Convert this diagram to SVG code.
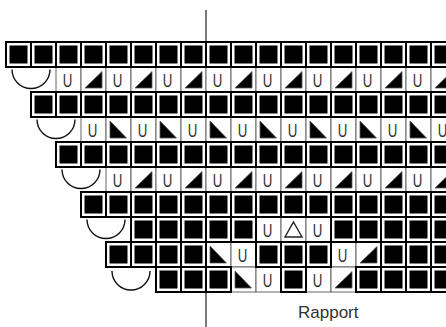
<svg xmlns="http://www.w3.org/2000/svg" xmlns:xlink="http://www.w3.org/1999/xlink" width="446" height="327" viewBox="0 0 446 327">
<style>
.sqb{fill:#fff;stroke:#000;stroke-width:2}
.pc{fill:#fff;stroke:#666;stroke-width:1}
.tri{fill:#000;stroke:#555;stroke-width:0.8;stroke-linejoin:miter}
.tro{fill:none;stroke:#222;stroke-width:1.4}
.u{font-family:"Liberation Sans",Arial,sans-serif;font-size:19px;fill:#333;text-anchor:middle}
.arc{fill:none;stroke:#111;stroke-width:1.4}
.rl{stroke:#222;stroke-width:1.2}
.lbl{font-family:"Liberation Sans",Arial,sans-serif;font-size:17px;fill:#333}
</style>
<defs>
<g id="sq"><rect width="25" height="25" class="sqb"/><rect x="3.5" y="3.5" width="18" height="18" fill="#000"/></g>
<g id="pc"><rect width="25" height="25" class="pc"/></g>
<g id="tr"><rect width="25" height="25" class="pc"/><polygon class="tri" points="4,21 21,4.5 21,21"/></g>
<g id="tl"><rect width="25" height="25" class="pc"/><polygon class="tri" points="4,4 4,21 20.5,21"/></g>
<g id="to"><rect width="25" height="25" class="pc"/><polygon class="tro" points="12.5,5 21,20 4,20"/></g>
</defs>

<g id="rapport-line">
<line class="rl" x1="206" y1="10" x2="206" y2="327"/>
</g>

<g id="arcs">
<path class="arc" d="M12,69.5 A19,19 0 0 0 50,69.5"/>
<path class="arc" d="M37,119.5 A19,19 0 0 0 75,119.5"/>
<path class="arc" d="M62,169.5 A19,19 0 0 0 100,169.5"/>
<path class="arc" d="M87,219.5 A19,19 0 0 0 125,219.5"/>
<path class="arc" d="M112,271 A19,19 0 0 0 150,271"/>
</g>

<g id="pattern-cells">
<!-- row 2 y=67 -->
<use href="#pc" x="56" y="67"/><use href="#tr" x="81" y="67"/>
<use href="#pc" x="106" y="67"/><use href="#tr" x="131" y="67"/>
<use href="#pc" x="156" y="67"/><use href="#tr" x="181" y="67"/>
<use href="#pc" x="206" y="67"/><use href="#tr" x="231" y="67"/>
<use href="#pc" x="256" y="67"/><use href="#tr" x="281" y="67"/>
<use href="#pc" x="306" y="67"/><use href="#tr" x="331" y="67"/>
<use href="#pc" x="356" y="67"/><use href="#tr" x="381" y="67"/>
<use href="#pc" x="406" y="67"/><use href="#tr" x="431" y="67"/>
<!-- row 4 y=117 -->
<use href="#pc" x="81" y="117"/><use href="#tl" x="106" y="117"/>
<use href="#pc" x="131" y="117"/><use href="#tl" x="156" y="117"/>
<use href="#pc" x="181" y="117"/><use href="#tl" x="206" y="117"/>
<use href="#pc" x="231" y="117"/><use href="#tl" x="256" y="117"/>
<use href="#pc" x="281" y="117"/><use href="#tl" x="306" y="117"/>
<use href="#pc" x="331" y="117"/><use href="#tl" x="356" y="117"/>
<use href="#pc" x="381" y="117"/><use href="#tl" x="406" y="117"/>
<use href="#pc" x="431" y="117"/>
<!-- row 6 y=167 -->
<use href="#pc" x="106" y="167"/><use href="#tr" x="131" y="167"/>
<use href="#pc" x="156" y="167"/><use href="#tr" x="181" y="167"/>
<use href="#pc" x="206" y="167"/><use href="#tr" x="231" y="167"/>
<use href="#pc" x="256" y="167"/><use href="#tr" x="281" y="167"/>
<use href="#pc" x="306" y="167"/><use href="#tr" x="331" y="167"/>
<use href="#pc" x="356" y="167"/><use href="#tr" x="381" y="167"/>
<use href="#pc" x="406" y="167"/><use href="#tr" x="431" y="167"/>
<!-- row 8 y=217 -->
<use href="#pc" x="256" y="217"/><use href="#to" x="281" y="217"/><use href="#pc" x="306" y="217"/>
<!-- row 9 y=242 -->
<use href="#tl" x="206" y="242"/><use href="#pc" x="231" y="242"/>
<use href="#pc" x="331" y="242"/><use href="#tr" x="356" y="242"/>
<!-- row 10 y=267 -->
<use href="#tl" x="231" y="267"/><use href="#pc" x="256" y="267"/>
<use href="#pc" x="306" y="267"/><use href="#tr" x="331" y="267"/>
</g>

<g id="square-cells">
<!-- row 1 y=42 cells 0-17 -->
<use href="#sq" x="6" y="42"/><use href="#sq" x="31" y="42"/><use href="#sq" x="56" y="42"/><use href="#sq" x="81" y="42"/><use href="#sq" x="106" y="42"/><use href="#sq" x="131" y="42"/><use href="#sq" x="156" y="42"/><use href="#sq" x="181" y="42"/><use href="#sq" x="206" y="42"/><use href="#sq" x="231" y="42"/><use href="#sq" x="256" y="42"/><use href="#sq" x="281" y="42"/><use href="#sq" x="306" y="42"/><use href="#sq" x="331" y="42"/><use href="#sq" x="356" y="42"/><use href="#sq" x="381" y="42"/><use href="#sq" x="406" y="42"/><use href="#sq" x="431" y="42"/>
<!-- row 3 y=92 cells 1-17 -->
<use href="#sq" x="31" y="92"/><use href="#sq" x="56" y="92"/><use href="#sq" x="81" y="92"/><use href="#sq" x="106" y="92"/><use href="#sq" x="131" y="92"/><use href="#sq" x="156" y="92"/><use href="#sq" x="181" y="92"/><use href="#sq" x="206" y="92"/><use href="#sq" x="231" y="92"/><use href="#sq" x="256" y="92"/><use href="#sq" x="281" y="92"/><use href="#sq" x="306" y="92"/><use href="#sq" x="331" y="92"/><use href="#sq" x="356" y="92"/><use href="#sq" x="381" y="92"/><use href="#sq" x="406" y="92"/><use href="#sq" x="431" y="92"/>
<!-- row 5 y=142 cells 2-17 -->
<use href="#sq" x="56" y="142"/><use href="#sq" x="81" y="142"/><use href="#sq" x="106" y="142"/><use href="#sq" x="131" y="142"/><use href="#sq" x="156" y="142"/><use href="#sq" x="181" y="142"/><use href="#sq" x="206" y="142"/><use href="#sq" x="231" y="142"/><use href="#sq" x="256" y="142"/><use href="#sq" x="281" y="142"/><use href="#sq" x="306" y="142"/><use href="#sq" x="331" y="142"/><use href="#sq" x="356" y="142"/><use href="#sq" x="381" y="142"/><use href="#sq" x="406" y="142"/><use href="#sq" x="431" y="142"/>
<!-- row 7 y=192 cells 3-17 -->
<use href="#sq" x="81" y="192"/><use href="#sq" x="106" y="192"/><use href="#sq" x="131" y="192"/><use href="#sq" x="156" y="192"/><use href="#sq" x="181" y="192"/><use href="#sq" x="206" y="192"/><use href="#sq" x="231" y="192"/><use href="#sq" x="256" y="192"/><use href="#sq" x="281" y="192"/><use href="#sq" x="306" y="192"/><use href="#sq" x="331" y="192"/><use href="#sq" x="356" y="192"/><use href="#sq" x="381" y="192"/><use href="#sq" x="406" y="192"/><use href="#sq" x="431" y="192"/>
<!-- row 8 y=217 cells 5-9, 13-17 -->
<use href="#sq" x="131" y="217"/><use href="#sq" x="156" y="217"/><use href="#sq" x="181" y="217"/><use href="#sq" x="206" y="217"/><use href="#sq" x="231" y="217"/>
<use href="#sq" x="331" y="217"/><use href="#sq" x="356" y="217"/><use href="#sq" x="381" y="217"/><use href="#sq" x="406" y="217"/><use href="#sq" x="431" y="217"/>
<!-- row 9 y=242 cells 4-7, 10-12, 15-17 -->
<use href="#sq" x="106" y="242"/><use href="#sq" x="131" y="242"/><use href="#sq" x="156" y="242"/><use href="#sq" x="181" y="242"/>
<use href="#sq" x="256" y="242"/><use href="#sq" x="281" y="242"/><use href="#sq" x="306" y="242"/>
<use href="#sq" x="381" y="242"/><use href="#sq" x="406" y="242"/><use href="#sq" x="431" y="242"/>
<!-- row 10 y=267 cells 6-8, 11, 14-17 -->
<use href="#sq" x="156" y="267"/><use href="#sq" x="181" y="267"/><use href="#sq" x="206" y="267"/>
<use href="#sq" x="281" y="267"/>
<use href="#sq" x="381" y="267"/><use href="#sq" x="406" y="267"/><use href="#sq" x="431" y="267"/><use href="#sq" x="356" y="267"/>
</g>

<g id="u-symbols">
<!-- row 2 baseline 86.5 -->
<text class="u" transform="translate(67.5,86.5) scale(0.7,1)">U</text>
<text class="u" transform="translate(117.5,86.5) scale(0.7,1)">U</text>
<text class="u" transform="translate(167.5,86.5) scale(0.7,1)">U</text>
<text class="u" transform="translate(217.5,86.5) scale(0.7,1)">U</text>
<text class="u" transform="translate(267.5,86.5) scale(0.7,1)">U</text>
<text class="u" transform="translate(317.5,86.5) scale(0.7,1)">U</text>
<text class="u" transform="translate(367.5,86.5) scale(0.7,1)">U</text>
<text class="u" transform="translate(417.5,86.5) scale(0.7,1)">U</text>
<!-- row 4 baseline 136.5 -->
<text class="u" transform="translate(92.5,136.5) scale(0.7,1)">U</text>
<text class="u" transform="translate(142.5,136.5) scale(0.7,1)">U</text>
<text class="u" transform="translate(192.5,136.5) scale(0.7,1)">U</text>
<text class="u" transform="translate(242.5,136.5) scale(0.7,1)">U</text>
<text class="u" transform="translate(292.5,136.5) scale(0.7,1)">U</text>
<text class="u" transform="translate(342.5,136.5) scale(0.7,1)">U</text>
<text class="u" transform="translate(392.5,136.5) scale(0.7,1)">U</text>
<text class="u" transform="translate(442.5,136.5) scale(0.7,1)">U</text>
<!-- row 6 baseline 186.5 -->
<text class="u" transform="translate(117.5,186.5) scale(0.7,1)">U</text>
<text class="u" transform="translate(167.5,186.5) scale(0.7,1)">U</text>
<text class="u" transform="translate(217.5,186.5) scale(0.7,1)">U</text>
<text class="u" transform="translate(267.5,186.5) scale(0.7,1)">U</text>
<text class="u" transform="translate(317.5,186.5) scale(0.7,1)">U</text>
<text class="u" transform="translate(367.5,186.5) scale(0.7,1)">U</text>
<text class="u" transform="translate(417.5,186.5) scale(0.7,1)">U</text>
<!-- row 8 baseline 236.5 -->
<text class="u" transform="translate(267.5,236.5) scale(0.7,1)">U</text>
<text class="u" transform="translate(317.5,236.5) scale(0.7,1)">U</text>
<!-- row 9 baseline 261.5 -->
<text class="u" transform="translate(242.5,261.5) scale(0.7,1)">U</text>
<text class="u" transform="translate(342.5,261.5) scale(0.7,1)">U</text>
<!-- row 10 baseline 286.5 -->
<text class="u" transform="translate(267.5,286.5) scale(0.7,1)">U</text>
<text class="u" transform="translate(317.5,286.5) scale(0.7,1)">U</text>
</g>

<g id="label">
<text class="lbl" x="298" y="318">Rapport</text>
</g>
</svg>
